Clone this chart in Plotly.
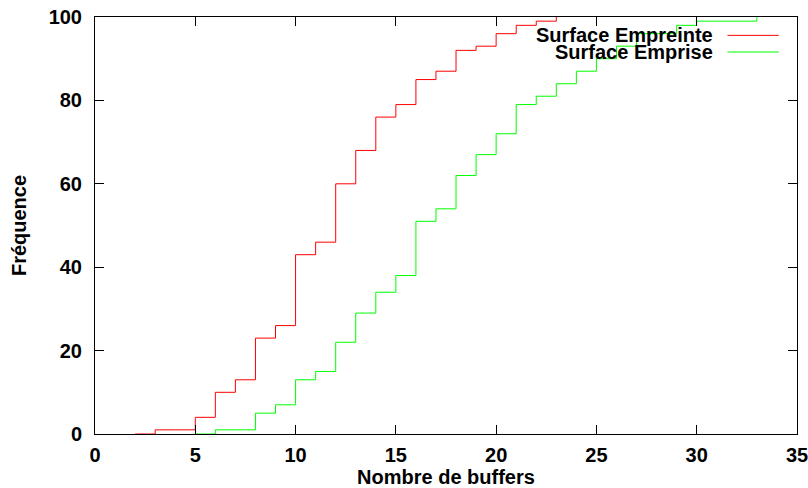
import plotly.graph_objects as go

# Data (cumulative frequency vs number of buffers)
x_empreinte = [2, 3, 4, 5, 6, 7, 8, 9, 10, 11, 12, 13, 14, 15, 16, 17, 18, 19, 20, 21, 22, 23]
y_empreinte = [0, 1, 1, 4, 10, 13, 23, 26, 43, 46, 60, 68, 76, 79, 85, 87, 92, 93, 96, 98, 99, 100]

x_emprise = [5, 6, 7, 8, 9, 10, 11, 12, 13, 14, 15, 16, 17, 18, 19, 20, 21, 22, 23, 24, 25, 26, 27, 28, 29, 30, 31, 32, 33]
y_emprise = [0, 1, 1, 5, 7, 13, 15, 22, 29, 34, 38, 51, 54, 62, 67, 72, 79, 81, 84, 87, 90, 93, 96, 96, 98, 99, 99, 99, 100]

x_ticks = [0, 5, 10, 15, 20, 25, 30, 35]
y_ticks = [0, 20, 40, 60, 80, 100]

series_names = ["Surface Empreinte", "Surface Emprise"]
series_colors = ["#ff0000", "#00ff00"]

FONT = "Liberation Sans, Arial, Helvetica, sans-serif"
FS = 20

fig = go.Figure()
fig.add_trace(go.Scatter(x=x_empreinte, y=y_empreinte, mode="lines",
                         line=dict(shape="hv", color=series_colors[0], width=1),
                         name=series_names[0], showlegend=False))
fig.add_trace(go.Scatter(x=x_emprise, y=y_emprise, mode="lines",
                         line=dict(shape="hv", color=series_colors[1], width=1),
                         name=series_names[1], showlegend=False))

axis_common = dict(
    showgrid=False, zeroline=False, showline=True, linecolor="black", linewidth=1,
    mirror="allticks", ticks="inside", ticklen=9, tickcolor="black", tickwidth=1,
    tickfont=dict(family=FONT, size=FS, color="black", weight="bold"),
    layer="above traces", automargin=False, ticklabeloverflow="allow",
)

fig.update_xaxes(range=[0, 35], tickvals=x_ticks, ticktext=[str(v) for v in x_ticks],
                 ticklabelstandoff=3,
                 title=dict(text="Nombre de buffers", standoff=0,
                            font=dict(family=FONT, size=FS, color="black", weight="bold")),
                 **axis_common)
fig.update_yaxes(range=[0, 100], tickvals=y_ticks, ticktext=[str(v) for v in y_ticks],
                 ticklabelstandoff=8,
                 title=dict(text="Fréquence", standoff=16,
                            font=dict(family=FONT, size=FS, color="black", weight="bold")),
                 **axis_common)

# gnuplot-style key: right-aligned text, line sample on the right
key_y = [0.956, 0.916]
for name, color, ky in zip(series_names, series_colors, key_y):
    fig.add_annotation(xref="paper", yref="paper", x=0.883, y=ky, text=name,
                       showarrow=False, xanchor="right", yanchor="middle",
                       font=dict(family=FONT, size=FS, color="black", weight="bold"))
    fig.add_shape(type="line", xref="paper", yref="paper", x0=0.901, x1=0.974, y0=ky, y1=ky,
                  line=dict(color=color, width=1))

fig.update_layout(
    width=808, height=488,
    margin=dict(l=95, r=11, t=17, b=54),
    plot_bgcolor="white", paper_bgcolor="white",
    font=dict(family=FONT, color="black"),
)

fig.write_html("out.html")
